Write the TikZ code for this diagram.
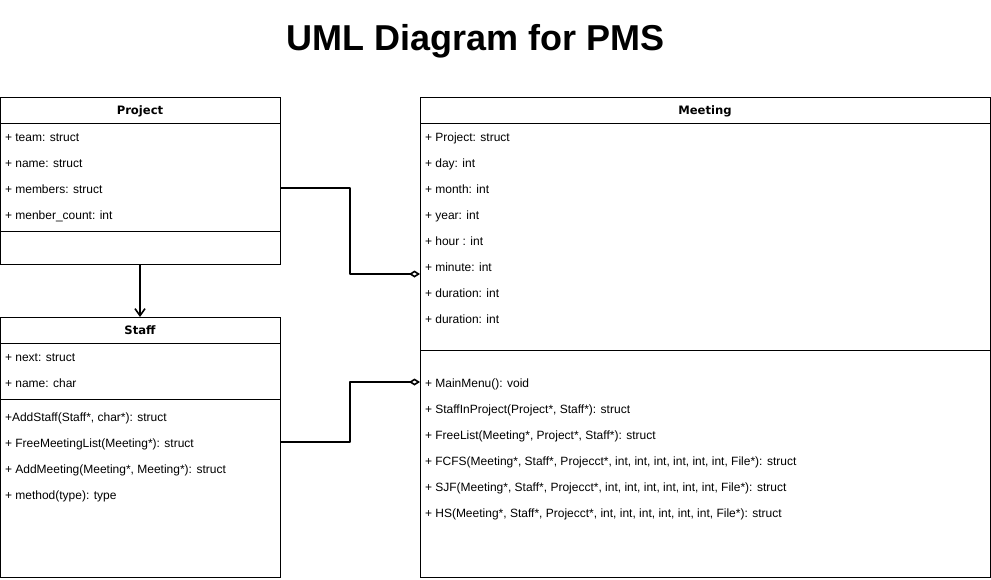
\documentclass[tikz,border=0pt]{standalone}
\usepackage{fontspec}
\setmainfont{Liberation Sans}
\newfontfamily\hdrfont{DejaVu Sans}
\usepackage{tikz}
\usetikzlibrary{arrows.meta,positioning}
\newdimen\pxu \pxu=0.75pt

\begin{document}
\begin{tikzpicture}[x=0.75pt, y=-0.75pt, line width=0.75pt,
  box/.style={draw, rectangle, anchor=north west, outer sep=0pt, inner sep=0pt},
  hdr/.style={draw, rectangle, anchor=north west, outer sep=0pt, minimum height=26*\pxu, text height=9.5*\pxu, text depth=0pt, font=\hdrfont\fontsize{8.7pt}{10pt}\selectfont\bfseries},
  row/.style={anchor=north west, outer sep=0pt, inner xsep=5*\pxu, inner ysep=0pt, minimum height=26*\pxu, text height=10*\pxu, text depth=0pt, font=\fontsize{9pt}{11pt}\selectfont},
  conn/.style={line width=1.2pt, line join=round},
  arr/.style={conn, -{Straight Barb[length=5.25pt,width=7.5pt]}},
  agg/.style={conn, -{Diamond[open,length=8.25pt,width=5.25pt]}}]
\useasboundingbox (0,0) rectangle (991,579);
\node[font=\fontsize{27pt}{32pt}\selectfont\bfseries, anchor=base] (title) at (475.5,50) {UML Diagram for PMS};
% Project
\node[box, minimum width=280*\pxu, minimum height=167*\pxu] (project) at (0,97) {};
\node[hdr, minimum width=280*\pxu] (projectH) at (0,97) {Project};
\node[row, below right=0pt and 0pt of projectH.south west] (pTeam) {+ team: struct};
\node[row, below right=0pt and 0pt of pTeam.south west] (pName) {+ name: struct};
\node[row, below right=0pt and 0pt of pName.south west] (pMembers) {+ members: struct};
\node[row, below right=0pt and 0pt of pMembers.south west] (pCount) {+ menber\_count: int};
\draw (project.west |- 0,231) -- (project.east |- 0,231);
% Staff
\node[box, minimum width=280*\pxu, minimum height=260*\pxu] (staff) at (0,317) {};
\node[hdr, minimum width=280*\pxu] (staffH) at (0,317) {Staff};
\node[row, below right=0pt and 0pt of staffH.south west] (sNext) {+ next: struct};
\node[row, below right=0pt and 0pt of sNext.south west] (sName) {+ name: char};
\draw (staff.west |- 0,399) -- (staff.east |- 0,399);
\node[row] (sAdd) at (0,403) {+AddStaff(Staff*, char*): struct};
\node[row, below right=0pt and 0pt of sAdd.south west] (sFree) {+ FreeMeetingList(Meeting*): struct};
\node[row, below right=0pt and 0pt of sFree.south west] (sAddM) {+ AddMeeting(Meeting*, Meeting*): struct};
\node[row, below right=0pt and 0pt of sAddM.south west] (sMethod) {+ method(type): type};
% Meeting
\node[box, minimum width=570*\pxu, minimum height=480*\pxu] (meeting) at (420,97) {};
\node[hdr, minimum width=570*\pxu] (meetingH) at (420,97) {Meeting};
\node[row, below right=0pt and 0pt of meetingH.south west] (mProject) {+ Project: struct};
\node[row, below right=0pt and 0pt of mProject.south west] (mDay) {+ day: int};
\node[row, below right=0pt and 0pt of mDay.south west] (mMonth) {+ month: int};
\node[row, below right=0pt and 0pt of mMonth.south west] (mYear) {+ year: int};
\node[row, below right=0pt and 0pt of mYear.south west] (mHour) {+ hour : int};
\node[row, below right=0pt and 0pt of mHour.south west] (mMinute) {+ minute: int};
\node[row, below right=0pt and 0pt of mMinute.south west] (mDur) {+ duration: int};
\node[row, below right=0pt and 0pt of mDur.south west] (mDurB) {+ duration: int};
\draw (meeting.west |- 0,350) -- (meeting.east |- 0,350);
\node[row] (mMain) at (420,369) {+ MainMenu(): void};
\node[row, below right=0pt and 0pt of mMain.south west] (mStaffIn) {+ StaffInProject(Project*, Staff*): struct};
\node[row, below right=0pt and 0pt of mStaffIn.south west] (mFreeList) {+ FreeList(Meeting*, Project*, Staff*): struct};
\node[row, below right=0pt and 0pt of mFreeList.south west] (mFCFS) {+ FCFS(Meeting*, Staff*, Projecct*, int, int, int, int, int, int, File*): struct};
\node[row, below right=0pt and 0pt of mFCFS.south west] (mSJF) {+ SJF(Meeting*, Staff*, Projecct*, int, int, int, int, int, int, File*): struct};
\node[row, below right=0pt and 0pt of mSJF.south west] (mHS) {+ HS(Meeting*, Staff*, Projecct*, int, int, int, int, int, int, File*): struct};
% connectors
\coordinate (aggIn) at (meeting.west |- 0,274);
\draw[arr] (project.south) -- (staff.north);
\draw[agg] (pMembers -| project.east) -- ++(70,0) |- (aggIn);
\draw[agg] (sFree -| staff.east) -- ++(70,0) |- (mMain -| meeting.west);
\end{tikzpicture}
\end{document}
